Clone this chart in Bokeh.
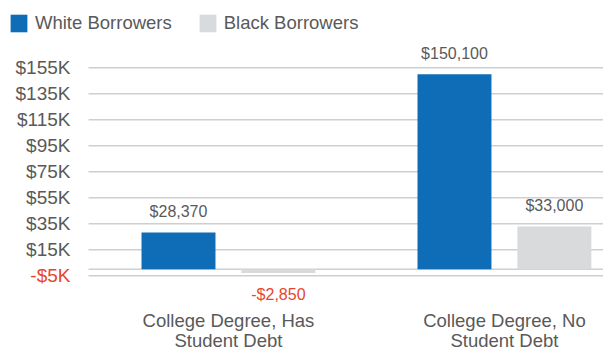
from bokeh.plotting import figure
from bokeh.models import Range1d, Legend, LegendItem
from bokeh.core.properties import value
from bokeh.embed import file_html
from bokeh.resources import INLINE

# ---- data ----
categories = ["College Degree, Has\nStudent Debt", "College Degree, No\nStudent Debt"]
white_values = [28370, 150100]
black_values = [-2850, 33000]
white_labels = ["$28,370", "$150,100"]
black_labels = ["-$2,850", "$33,000"]
tick_values = [-5000, 15000, 35000, 55000, 75000, 95000, 115000, 135000, 155000]
tick_labels = ["-$5K", "$15K", "$35K", "$55K", "$75K", "$95K", "$115K", "$135K", "$155K"]
series_names = ["White Borrowers", "Black Borrowers"]

# ---- style ----
BLUE = "#0F6DB8"
GREY = "#D9DADB"
TEXT = "#595959"
RED = "#E8452C"
GRID = "#CFCFCF"
FONT = value("Liberation Sans")

W, H = 603, 350
p = figure(width=W, height=H, output_backend="svg", toolbar_location=None,
           x_range=Range1d(-0.826, 1.359), y_range=Range1d(-62462, 206769),
           min_border=0, outline_line_color=None)
p.axis.visible = False
p.xgrid.visible = False
p.ygrid.visible = False
p.background_fill_color = "white"
p.border_fill_color = "white"

n = len(categories)
xc = list(range(n))
off = 0.181
bw = 0.268

# grid lines (including zero baseline)
grid_y = [0] + tick_values
p.segment(x0=[-0.507] * len(grid_y), x1=[1.359] * len(grid_y), y0=grid_y, y1=grid_y,
          line_color=GRID, line_width=1.5)

# tick labels
tick_colors = [RED if v < 0 else TEXT for v in tick_values]
p.text(x=[-0.5725] * len(tick_values), y=tick_values, text=tick_labels,
       text_color=tick_colors, text_font=FONT, text_font_size="19px",
       text_align="right", text_baseline="middle")

# bars
r_white = p.vbar(x=[c - off for c in xc], top=white_values, bottom=0, width=bw,
                 fill_color=BLUE, line_color=None)
r_black = p.vbar(x=[c + off for c in xc], top=black_values, bottom=0, width=bw,
                 fill_color=GREY, line_color=None)

# value labels
def add_labels(xs, vals, labels):
    pos = [i for i, v in enumerate(vals) if v >= 0]
    neg = [i for i, v in enumerate(vals) if v < 0]
    if pos:
        p.text(x=[xs[i] for i in pos], y=[vals[i] for i in pos], text=[labels[i] for i in pos],
               y_offset=-21, text_color=TEXT, text_font=FONT, text_font_size="16px",
               text_align="center", text_baseline="middle")
    if neg:
        p.text(x=[xs[i] for i in neg], y=[vals[i] for i in neg], text=[labels[i] for i in neg],
               y_offset=21, text_color=RED, text_font=FONT, text_font_size="16px",
               text_align="center", text_baseline="middle")

add_labels([c - off for c in xc], white_values, white_labels)
add_labels([c + off for c in xc], black_values, black_labels)

# category labels (two lines)
line1 = [c.split("\n")[0] for c in categories]
line2 = [c.split("\n")[1] for c in categories]
p.text(x=xc, y=[0] * n, text=line1, y_offset=51, text_color=TEXT, text_font=FONT,
       text_font_size="18.5px", text_align="center", text_baseline="middle")
p.text(x=xc, y=[0] * n, text=line2, y_offset=71, text_color=TEXT, text_font=FONT,
       text_font_size="18.5px", text_align="center", text_baseline="middle")

# legend
legend = Legend(items=[LegendItem(label=series_names[0], renderers=[r_white]),
                       LegendItem(label=series_names[1], renderers=[r_black])],
                orientation="horizontal", location=(8, 316), margin=0, padding=0,
                spacing=25, glyph_width=21, glyph_height=22, label_height=22,
                label_standoff=6, label_text_font="Liberation Sans",
                label_text_font_size="18.5px", label_text_color=TEXT,
                border_line_color=None, background_fill_alpha=0)
p.add_layout(legend)

open("out.html", "w").write(file_html(p, INLINE))
